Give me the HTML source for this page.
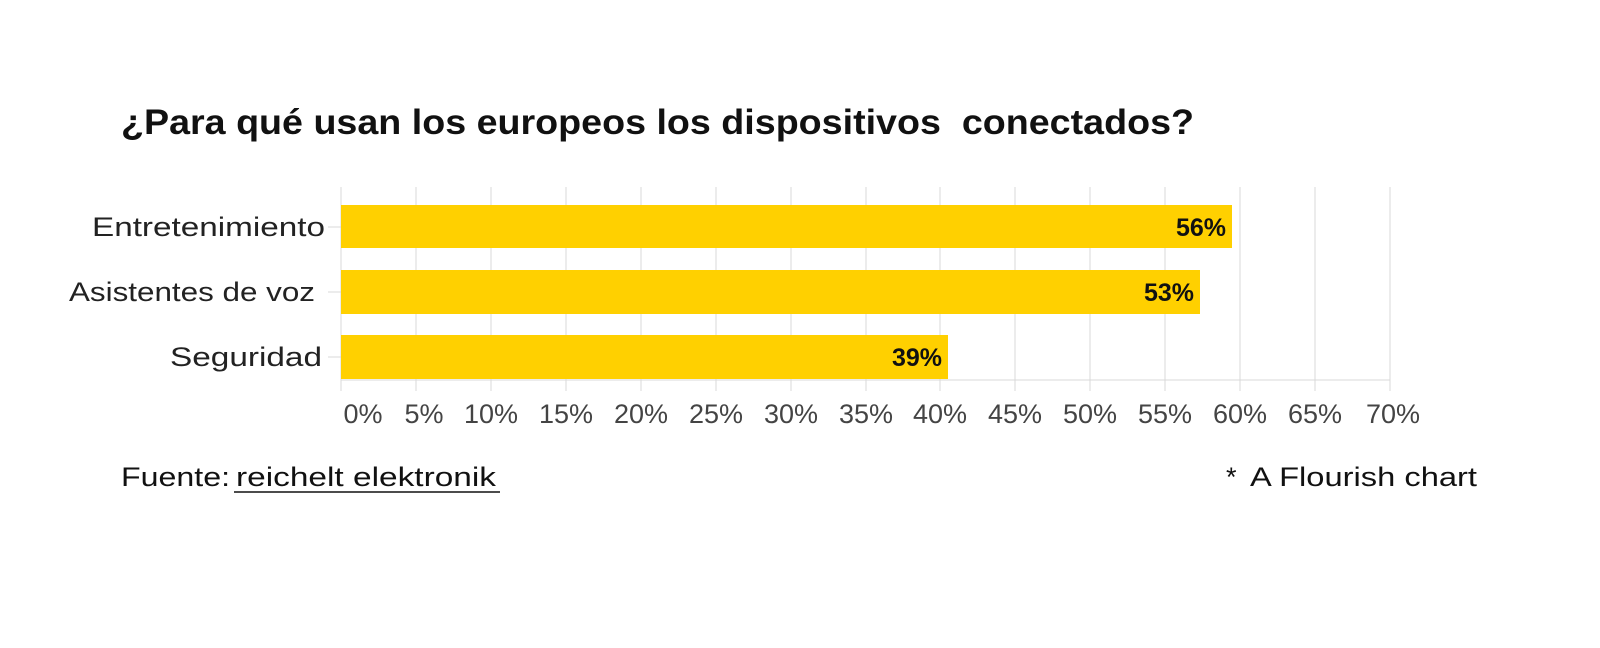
<!DOCTYPE html>
<html><head><meta charset="utf-8"><style>
body{margin:0;width:1600px;height:648px;background:#fff;font-family:"Liberation Sans",sans-serif;position:relative;overflow:hidden}
.a{position:absolute;white-space:nowrap}
</style></head><body>
<svg class="a" style="left:0;top:0" width="1600" height="648">
<text x="121" y="134" font-family="Liberation Sans,sans-serif" font-size="35" font-weight="bold" fill="#111" textLength="1073" lengthAdjust="spacingAndGlyphs">¿Para qué usan los europeos los dispositivos&#160; conectados?</text>
<g stroke="#d8d8d8" stroke-width="1">
<line x1="341" y1="187" x2="341" y2="391"/><line x1="416" y1="187" x2="416" y2="391"/><line x1="491" y1="187" x2="491" y2="391"/><line x1="566" y1="187" x2="566" y2="391"/><line x1="641" y1="187" x2="641" y2="391"/><line x1="716" y1="187" x2="716" y2="391"/><line x1="791" y1="187" x2="791" y2="391"/><line x1="866" y1="187" x2="866" y2="391"/><line x1="940" y1="187" x2="940" y2="391"/><line x1="1015" y1="187" x2="1015" y2="391"/><line x1="1090" y1="187" x2="1090" y2="391"/><line x1="1165" y1="187" x2="1165" y2="391"/><line x1="1240" y1="187" x2="1240" y2="391"/><line x1="1315" y1="187" x2="1315" y2="391"/><line x1="1390" y1="187" x2="1390" y2="391"/>
<line x1="341" y1="380" x2="1390" y2="380"/>
<line x1="328" y1="227" x2="341" y2="227"/><line x1="328" y1="292" x2="341" y2="292"/><line x1="328" y1="357" x2="341" y2="357"/>
</g>
<rect x="341" y="205" width="891" height="43" fill="#ffd000"/>
<rect x="341" y="270" width="859" height="44" fill="#ffd000"/>
<rect x="341" y="335" width="607" height="44" fill="#ffd000"/>
<g font-family="Liberation Sans,sans-serif" font-size="25" font-weight="bold" fill="#111" text-anchor="end">
<text x="1226" y="236">56%</text><text x="1194" y="301">53%</text><text x="942" y="366">39%</text>
</g>
<g font-family="Liberation Sans,sans-serif" font-size="27" fill="#222">
<text x="92" y="236" textLength="233" lengthAdjust="spacingAndGlyphs">Entretenimiento</text>
<text x="69" y="301" textLength="246" lengthAdjust="spacingAndGlyphs">Asistentes de voz</text>
<text x="170" y="366" textLength="152" lengthAdjust="spacingAndGlyphs">Seguridad</text>
</g>
<g font-family="Liberation Sans,sans-serif" font-size="27" fill="#444" text-anchor="middle">
<text x="363" y="423">0%</text><text x="424" y="423">5%</text><text x="491" y="423">10%</text><text x="566" y="423">15%</text><text x="641" y="423">20%</text><text x="716" y="423">25%</text><text x="791" y="423">30%</text><text x="866" y="423">35%</text><text x="940" y="423">40%</text><text x="1015" y="423">45%</text><text x="1090" y="423">50%</text><text x="1165" y="423">55%</text><text x="1240" y="423">60%</text><text x="1315" y="423">65%</text><text x="1393" y="423">70%</text>
</g>
<g font-family="Liberation Sans,sans-serif" font-size="27" fill="#111">
<text x="121" y="486" textLength="109" lengthAdjust="spacingAndGlyphs">Fuente:</text>
<text x="236" y="486" textLength="260" lengthAdjust="spacingAndGlyphs">reichelt elektronik</text>
<line x1="234" y1="492" x2="500" y2="492" stroke="#111" stroke-width="1.5"/>
<text x="1226" y="486">*</text>
<text x="1250" y="486" textLength="227" lengthAdjust="spacingAndGlyphs">A Flourish chart</text>
</g>
</svg>
</body></html>
